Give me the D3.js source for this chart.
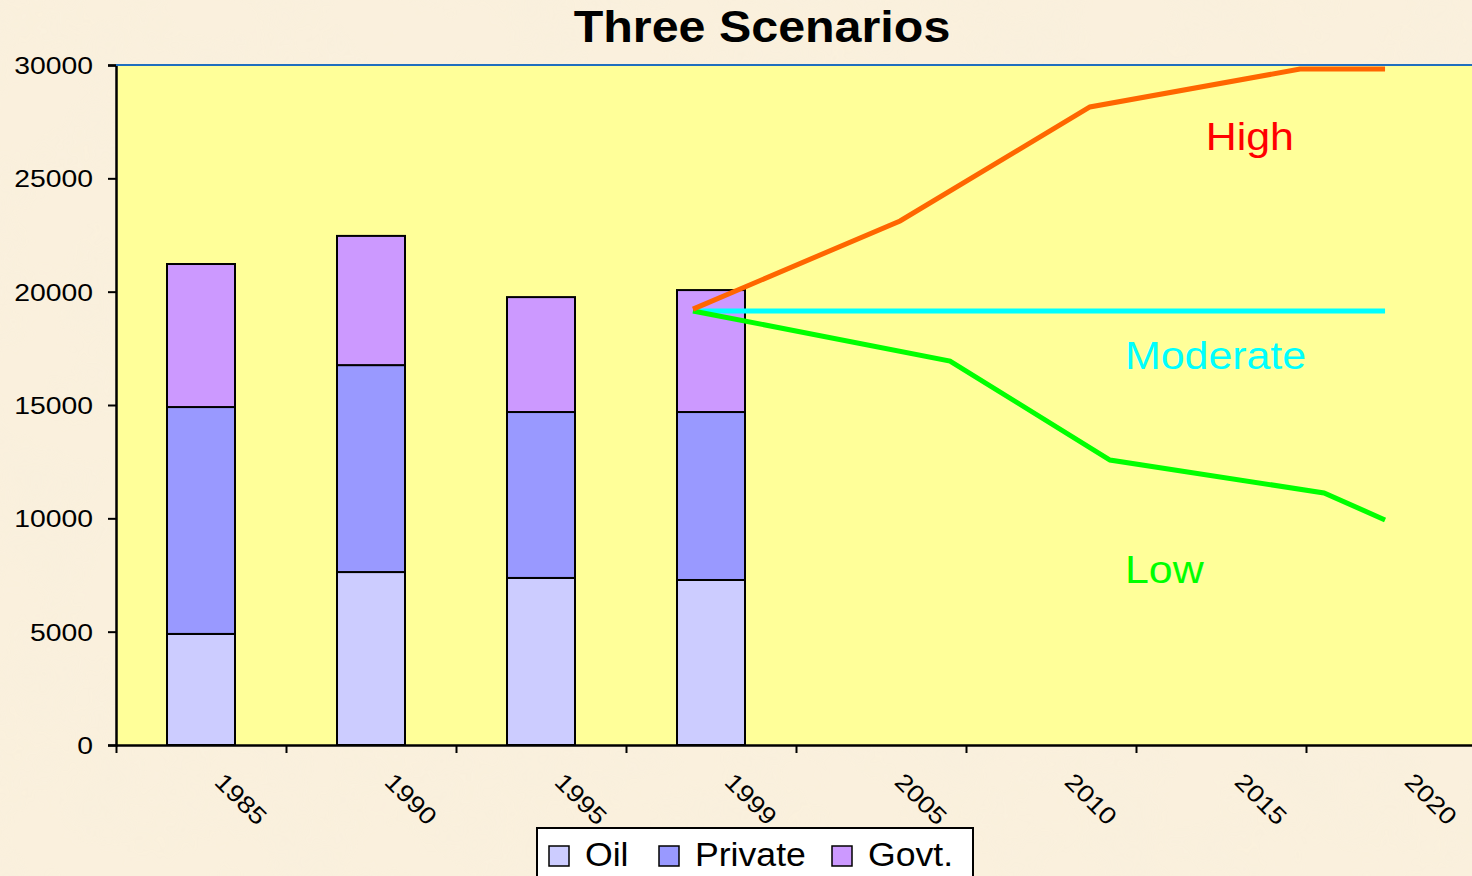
<!DOCTYPE html>
<html><head><meta charset="utf-8">
<script src="https://cdn.jsdelivr.net/npm/d3@7"></script>
<style>html,body{margin:0;padding:0;overflow:hidden;background:#F9EEDA;}</style>
</head><body>
<svg id="chart" width="1472" height="876"></svg>
<script>
// ---- data ----
const categories = ["1985","1990","1995","1999","2005","2010","2015","2020"];
const barYears = ["1985","1990","1995","1999"];
const oil     = [4900, 7630, 7370, 7280];
const privateV= [10010, 9130, 7320, 7410];
const govt    = [6310, 5700, 5070, 5380];
const seriesNames = ["Oil","Private","Govt."];
const yTicks = [0,5000,10000,15000,20000,25000,30000];
// scenario lines: position in category slots (0..8), value
const highPos = [3.394, 4.612, 5.729, 6.965, 7.465];
const highVal = [19230, 23120, 28150, 29820, 29820];
const modPos  = [3.394, 7.465];
const modVal  = [19150, 19150];
const lowPos  = [3.394, 4.906, 5.847, 7.106, 7.465];
const lowVal  = [19150, 16940, 12570, 11120, 9930];
const scenarioLabels = [
  {text:"High", pos:6.41, val:26250, color:"#FF0000"},
  {text:"Moderate", pos:5.935, val:16600, color:"#00FFFF"},
  {text:"Low", pos:5.935, val:7150, color:"#00FF00"}
];

const svg = d3.select("#chart");
const W = 1472, H = 876;
const L = 116, R = 1476, T = 65, B = 745;

// parchment background
const defs = svg.append("defs");
const f = defs.append("filter").attr("id","parch").attr("x",0).attr("y",0).attr("width","100%").attr("height","100%");
f.append("feTurbulence").attr("type","fractalNoise").attr("baseFrequency","0.012").attr("numOctaves",4).attr("seed",3);
f.append("feColorMatrix").attr("type","matrix")
 .attr("values","0 0 0 0 0.93  0 0 0 0 0.86  0 0 0 0 0.72  0 0 0 -1.2 0.75");
svg.append("rect").attr("width",W).attr("height",H).attr("fill","#FAF0DD");
svg.append("rect").attr("width",W).attr("height",H).attr("filter","url(#parch)").attr("opacity",0.7);

const x = d3.scaleBand().domain(categories).range([L,R]).paddingInner(0.6).paddingOuter(0.3);
const xs = d3.scaleLinear().domain([0,categories.length]).range([L,R]);
const y = d3.scaleLinear().domain([0,30000]).range([B,T]);

// plot area
svg.append("rect").attr("x",L).attr("y",T).attr("width",R-L).attr("height",B-T).attr("fill","#FFFF99");

// stacked bars
const rows = barYears.map((c,i)=>({cat:c, Oil:oil[i], Private:privateV[i], "Govt.":govt[i]}));
const stack = d3.stack().keys(seriesNames)(rows);
const colors = {"Oil":"#CCCCFF","Private":"#9999FF","Govt.":"#CC99FF"};
svg.append("g").selectAll("g").data(stack).join("g")
  .attr("fill",d=>colors[d.key])
  .selectAll("rect").data(d=>d).join("rect")
  .attr("x",d=>x(d.data.cat)).attr("width",x.bandwidth())
  .attr("y",d=>y(d[1])).attr("height",d=>y(d[0])-y(d[1]))
  .attr("stroke","#000").attr("stroke-width",2);

// scenario lines
const line = d3.line().x(d=>xs(d[0])).y(d=>y(d[1]));
const sc = [
  {p:modPos, v:modVal, c:"#00FFFF"},
  {p:lowPos, v:lowVal, c:"#00FF00"},
  {p:highPos, v:highVal, c:"#FF6600"}
];
sc.forEach(s=>{
  svg.append("path").datum(s.p.map((p,i)=>[p,s.v[i]])).attr("d",line)
    .attr("fill","none").attr("stroke",s.c).attr("stroke-width",5).attr("stroke-linejoin","miter");
});

// scenario labels
svg.append("g").selectAll("text").data(scenarioLabels).join("text")
  .attr("transform",d=>`translate(${xs(d.pos)},${y(d.val)}) scale(1.1,1)`)
  .attr("fill",d=>d.color).attr("font-family","Liberation Sans, Arial, sans-serif")
  .attr("font-size",39).text(d=>d.text);

// axes
const yAxis = svg.append("g").attr("transform",`translate(${L},0)`)
  .call(d3.axisLeft(y).tickValues(yTicks).tickFormat(d3.format("d")).tickSize(8).tickPadding(6));
yAxis.select(".domain").attr("stroke","#000").attr("stroke-width",2.5);
yAxis.selectAll(".tick line").attr("stroke","#000").attr("stroke-width",2);
yAxis.selectAll(".tick text").attr("font-family","Liberation Sans, Arial, sans-serif").attr("font-size",24)
  .attr("fill","#000").attr("dy","0.36em")
  .each(function(){ const t=d3.select(this); const xx=+t.attr("x"); t.attr("x",null)
     .attr("transform",`translate(${xx-9},0) scale(1.18,1)`); });

const xAxis = svg.append("g").attr("transform",`translate(0,${B})`)
  .call(d3.axisBottom(xs).tickValues(d3.range(0,categories.length)).tickFormat("").tickSize(8).tickSizeOuter(0));
xAxis.select(".domain").attr("stroke","#000").attr("stroke-width",2.5);
xAxis.selectAll(".tick line").attr("stroke","#000").attr("stroke-width",2);

svg.append("g").selectAll("text").data(categories).join("text")
  .attr("transform",d=>`translate(${x(d)+x.bandwidth()/2+40},${B+54}) rotate(45) scale(1.15,1)`)
  .attr("text-anchor","middle").attr("dy","0.35em")
  .attr("font-family","Liberation Sans, Arial, sans-serif").attr("font-size",24).attr("fill","#000")
  .text(d=>d);

// top border line (blue)
svg.append("line").attr("x1",L).attr("x2",R).attr("y1",y(30000)).attr("y2",y(30000))
  .attr("stroke","#1F6FBF").attr("stroke-width",2);

// title
svg.append("text").attr("transform","translate(762,42) scale(1.1,1)").attr("text-anchor","middle")
  .attr("font-family","Liberation Sans, Arial, sans-serif").attr("font-weight","bold").attr("font-size",44)
  .attr("fill","#000").text("Three Scenarios");

// legend
const lg = svg.append("g");
lg.append("rect").attr("x",537).attr("y",828).attr("width",436).attr("height",60)
  .attr("fill","#fff").attr("stroke","#000").attr("stroke-width",2);
const legX = [549, 659, 832];
seriesNames.forEach((n,i)=>{
  lg.append("rect").attr("x",legX[i]).attr("y",846).attr("width",20).attr("height",20)
    .attr("fill",colors[n]).attr("stroke","#000").attr("stroke-width",1.5);
  lg.append("text").attr("transform",`translate(${legX[i]+36},866) scale(1.08,1)`)
    .attr("font-family","Liberation Sans, Arial, sans-serif").attr("font-size",33).attr("fill","#000").text(n);
});
</script>
</body></html>
